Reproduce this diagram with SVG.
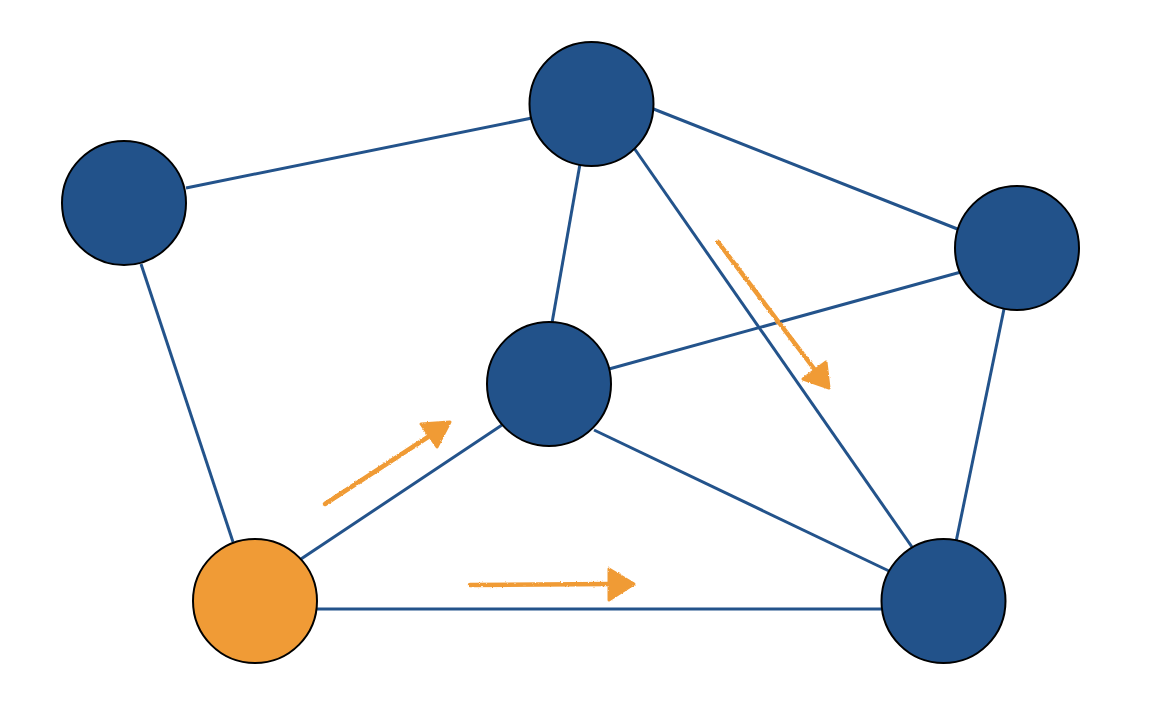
<svg xmlns="http://www.w3.org/2000/svg" width="1156" height="716" viewBox="0 0 1156 716">
<style>
.edge{stroke:#23538b;stroke-width:3;fill:none;stroke-linecap:butt}
.node{fill:#22528a;stroke:#000;stroke-width:2}
.start{fill:#f09b36;stroke:#000;stroke-width:2}
.arr{stroke:#f09b36;stroke-width:4.5;fill:none;stroke-linecap:round}
.head{fill:#f09b36;stroke:#f09b36;stroke-width:3;stroke-linejoin:round}
</style>
<defs>
<filter id="rough" x="-10%" y="-10%" width="120%" height="120%">
<feTurbulence type="fractalNoise" baseFrequency="0.6" numOctaves="2" seed="3"/>
<feDisplacementMap in="SourceGraphic" scale="2.5" xChannelSelector="R" yChannelSelector="G"/>
</filter>
</defs>
<rect width="1156" height="716" fill="#fff"/>
<g id="connectors">
<line class="edge" x1="186" y1="188" x2="532" y2="118"/>
<line class="edge" x1="141" y1="264" x2="233" y2="542"/>
<line class="edge" x1="580" y1="164" x2="552" y2="323"/>
<line class="edge" x1="651" y1="108" x2="960" y2="230"/>
<line class="edge" x1="634" y1="148" x2="912" y2="547"/>
<line class="edge" x1="961" y1="272" x2="609" y2="369"/>
<line class="edge" x1="1004" y1="309" x2="956" y2="542"/>
<line class="edge" x1="502" y1="425" x2="301" y2="559"/>
<line class="edge" x1="594" y1="430" x2="889" y2="571"/>
<line class="edge" x1="316" y1="609" x2="882" y2="609"/>
</g>
<g id="node-a"><circle class="node" cx="124" cy="203" r="62"/></g>
<g id="node-b"><circle class="node" cx="591.5" cy="104" r="62"/></g>
<g id="node-c"><circle class="node" cx="1017" cy="248" r="62"/></g>
<g id="node-d"><circle class="node" cx="549" cy="384" r="62"/></g>
<g id="node-e"><circle class="start" cx="255" cy="601" r="62"/></g>
<g id="node-f"><circle class="node" cx="943.5" cy="601" r="62"/></g>
<g id="arrows" filter="url(#rough)">
<line class="arr" x1="325" y1="504" x2="428" y2="437"/>
<polygon class="head" points="450,422 421,424 437,447"/>
<line class="arr" x1="470" y1="585" x2="610" y2="584"/>
<polygon class="head" points="634,584 609,569 609,600"/>
<line class="arr" x1="718" y1="242" x2="815" y2="370"/>
<polygon class="head" points="829,388 826,362 803,379"/>
</g>
</svg>
